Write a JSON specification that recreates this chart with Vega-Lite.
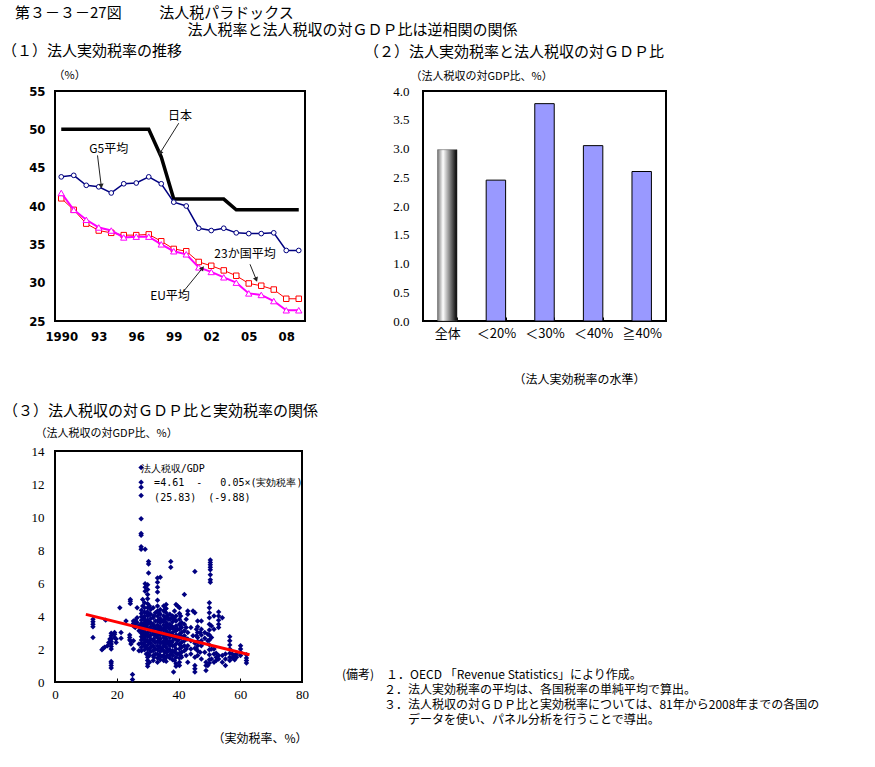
{
  "$schema": "https://vega.github.io/schema/vega-lite/v6.json",
  "autosize": {"type": "none"},
  "padding": {"left": 55, "top": 91, "right": 820, "bottom": 676},
  "background": "white",
  "config": {
    "font": "Noto Sans CJK JP",
    "view": {"stroke": "black", "strokeWidth": 2},
    "axis": {"domain": false, "grid": false, "ticks": false, "labelColor": "#000", "titleColor": "#000", "titleFontWeight": "normal", "labelFont": "Noto Sans CJK JP", "titleFont": "Noto Sans CJK JP", "labelFlush": false, "labelOverlap": false},
    "title": {"fontWeight": "normal", "color": "#000", "font": "Noto Sans CJK JP"}
  },
  "title": {
    "text": ["第３－３－27図\u3000\u3000\u2002法人税パラドックス", "\u200b\u3000\u3000\u3000\u3000\u3000\u3000\u3000\u3000\u3000\u3000\u3000\u2002法人税率と法人税収の対ＧＤＰ比は逆相関の関係"],
    "anchor": "start", "frame": "group", "dx": -40, "fontSize": 15, "lineHeight": 17, "offset": 5
  },
  "bounds": "flush",
  "columns": 2,
  "spacing": {"row": 130, "column": 118},
  "datasets": {
    "trend": [
      {"year":1990,"s":"日本","v":50.0},{"year":1991,"s":"日本","v":50.0},{"year":1992,"s":"日本","v":50.0},{"year":1993,"s":"日本","v":50.0},{"year":1994,"s":"日本","v":50.0},{"year":1995,"s":"日本","v":50.0},{"year":1996,"s":"日本","v":50.0},{"year":1997,"s":"日本","v":50.0},{"year":1998,"s":"日本","v":46.4},{"year":1999,"s":"日本","v":40.9},{"year":2000,"s":"日本","v":40.9},{"year":2001,"s":"日本","v":40.9},{"year":2002,"s":"日本","v":40.9},{"year":2003,"s":"日本","v":40.9},{"year":2004,"s":"日本","v":39.5},{"year":2005,"s":"日本","v":39.5},{"year":2006,"s":"日本","v":39.5},{"year":2007,"s":"日本","v":39.5},{"year":2008,"s":"日本","v":39.5},{"year":2009,"s":"日本","v":39.5},
      {"year":1990,"s":"G5平均","v":43.8},{"year":1991,"s":"G5平均","v":44.0},{"year":1992,"s":"G5平均","v":42.7},{"year":1993,"s":"G5平均","v":42.5},{"year":1994,"s":"G5平均","v":41.7},{"year":1995,"s":"G5平均","v":42.9},{"year":1996,"s":"G5平均","v":43.0},{"year":1997,"s":"G5平均","v":43.8},{"year":1998,"s":"G5平均","v":42.9},{"year":1999,"s":"G5平均","v":40.5},{"year":2000,"s":"G5平均","v":40.0},{"year":2001,"s":"G5平均","v":37.1},{"year":2002,"s":"G5平均","v":36.8},{"year":2003,"s":"G5平均","v":37.1},{"year":2004,"s":"G5平均","v":36.5},{"year":2005,"s":"G5平均","v":36.4},{"year":2006,"s":"G5平均","v":36.4},{"year":2007,"s":"G5平均","v":36.5},{"year":2008,"s":"G5平均","v":34.2},{"year":2009,"s":"G5平均","v":34.2},
      {"year":1990,"s":"23か国平均","v":41.0},{"year":1991,"s":"23か国平均","v":39.5},{"year":1992,"s":"23か国平均","v":37.7},{"year":1993,"s":"23か国平均","v":36.8},{"year":1994,"s":"23か国平均","v":36.5},{"year":1995,"s":"23か国平均","v":36.2},{"year":1996,"s":"23か国平均","v":36.2},{"year":1997,"s":"23か国平均","v":36.3},{"year":1998,"s":"23か国平均","v":35.4},{"year":1999,"s":"23か国平均","v":34.4},{"year":2000,"s":"23か国平均","v":34.1},{"year":2001,"s":"23か国平均","v":32.7},{"year":2002,"s":"23か国平均","v":32.2},{"year":2003,"s":"23か国平均","v":31.6},{"year":2004,"s":"23か国平均","v":30.9},{"year":2005,"s":"23か国平均","v":29.9},{"year":2006,"s":"23か国平均","v":29.6},{"year":2007,"s":"23か国平均","v":29.1},{"year":2008,"s":"23か国平均","v":27.9},{"year":2009,"s":"23か国平均","v":27.9},
      {"year":1990,"s":"EU平均","v":41.7},{"year":1991,"s":"EU平均","v":39.5},{"year":1992,"s":"EU平均","v":38.2},{"year":1993,"s":"EU平均","v":37.2},{"year":1994,"s":"EU平均","v":36.8},{"year":1995,"s":"EU平均","v":35.9},{"year":1996,"s":"EU平均","v":36.0},{"year":1997,"s":"EU平均","v":36.0},{"year":1998,"s":"EU平均","v":35.0},{"year":1999,"s":"EU平均","v":34.1},{"year":2000,"s":"EU平均","v":33.7},{"year":2001,"s":"EU平均","v":32.0},{"year":2002,"s":"EU平均","v":31.4},{"year":2003,"s":"EU平均","v":30.7},{"year":2004,"s":"EU平均","v":30.0},{"year":2005,"s":"EU平均","v":28.6},{"year":2006,"s":"EU平均","v":28.4},{"year":2007,"s":"EU平均","v":27.6},{"year":2008,"s":"EU平均","v":26.4},{"year":2009,"s":"EU平均","v":26.4}
    ],
    "arrows": [
      {"label":"日本","year":1999.4,"v":50.8,"year2":1997.9,"v2":46.9},
      {"label":"G5平均","year":1992.9,"v":46.6,"year2":1993.2,"v2":42.6},
      {"label":"23か国平均","year":2005.1,"v":32.4,"year2":2005.6,"v2":30.4},
      {"label":"EU平均","year":1999.8,"v":28.9,"year2":2001.3,"v2":31.9}
    ],
    "heads": [
      {"label":"日本","year":1997.9,"v":46.9},
      {"label":"G5平均","year":1993.2,"v":42.6},
      {"label":"23か国平均","year":2005.6,"v":30.4},
      {"label":"EU平均","year":2001.3,"v":31.9}
    ],
    "labs": [
      {"label":"日本","year":1999.5,"v":51.7},
      {"label":"G5平均","year":1993.8,"v":47.5},
      {"label":"23か国平均","year":2004.7,"v":33.8},
      {"label":"EU平均","year":1998.7,"v":28.3}
    ],
    "bars": [
      {"cat":"全体","value":2.98},{"cat":"＜20%","value":2.45},{"cat":"＜30%","value":3.78},{"cat":"＜40%","value":3.05},{"cat":"≧40%","value":2.6}
    ],
    "scatter": [
      {"rate":12.3,"gdp":3.8},{"rate":12.3,"gdp":3.65},{"rate":12.3,"gdp":3.5},{"rate":12.3,"gdp":3.35},{"rate":12.3,"gdp":2.7},
      {"rate":15.2,"gdp":1.95},{"rate":15.6,"gdp":2.05},{"rate":16.1,"gdp":2.1},{"rate":16.4,"gdp":3.75},
      {"rate":17.0,"gdp":2.2},{"rate":17.4,"gdp":2.4},{"rate":17.8,"gdp":2.6},
      {"rate":18.2,"gdp":0.85},{"rate":18.2,"gdp":1.0},{"rate":18.2,"gdp":1.15},{"rate":18.2,"gdp":1.25},{"rate":18.2,"gdp":2.0},{"rate":18.2,"gdp":2.15},{"rate":18.2,"gdp":2.3},{"rate":18.2,"gdp":2.45},{"rate":18.2,"gdp":2.6},{"rate":18.2,"gdp":2.8},{"rate":18.2,"gdp":2.95},
      {"rate":19.3,"gdp":2.7},{"rate":19.3,"gdp":2.9},{"rate":19.3,"gdp":3.0},{"rate":19.8,"gdp":2.4},{"rate":19.8,"gdp":2.6},
      {"rate":21.0,"gdp":4.5},{"rate":21.4,"gdp":3.0},{"rate":21.4,"gdp":2.65},{"rate":23.0,"gdp":3.7},
      {"rate":24.4,"gdp":4.75},{"rate":24.4,"gdp":4.9},{"rate":24.4,"gdp":5.0},{"rate":24.2,"gdp":2.55},{"rate":24.2,"gdp":2.7},{"rate":24.2,"gdp":2.85},{"rate":24.6,"gdp":2.3},{"rate":24.6,"gdp":2.45},
      {"rate":25.1,"gdp":0.15},{"rate":25.1,"gdp":0.45},{"rate":25.4,"gdp":3.4},{"rate":25.4,"gdp":3.55},{"rate":25.4,"gdp":3.7},{"rate":25.4,"gdp":2.0},{"rate":25.4,"gdp":2.5},
      {"rate":26.0,"gdp":3.5},{"rate":26.0,"gdp":3.75},{"rate":26.0,"gdp":3.3},{"rate":26.6,"gdp":4.5},{"rate":26.6,"gdp":3.9},{"rate":26.6,"gdp":3.6},
      {"rate":27.2,"gdp":3.4},{"rate":27.2,"gdp":3.1},{"rate":27.2,"gdp":1.9},{"rate":27.2,"gdp":2.3},
      {"rate":27.9,"gdp":13.0},{"rate":27.9,"gdp":12.1},{"rate":27.9,"gdp":11.8},{"rate":27.9,"gdp":11.3},{"rate":27.9,"gdp":9.9},{"rate":27.9,"gdp":9.0},{"rate":27.9,"gdp":8.9},{"rate":27.9,"gdp":8.2},{"rate":27.9,"gdp":8.05},
      {"rate":28.0,"gdp":4.35},{"rate":28.0,"gdp":4.15},{"rate":28.0,"gdp":3.95},{"rate":28.0,"gdp":3.75},{"rate":28.0,"gdp":3.55},{"rate":28.0,"gdp":3.35},{"rate":28.0,"gdp":3.15},{"rate":28.0,"gdp":2.95},{"rate":28.0,"gdp":2.75},{"rate":28.0,"gdp":2.55},{"rate":28.0,"gdp":2.35},{"rate":28.0,"gdp":2.1},{"rate":28.0,"gdp":1.9},
      {"rate":28.4,"gdp":5.0},{"rate":28.4,"gdp":4.6},{"rate":28.4,"gdp":2.9},{"rate":28.4,"gdp":2.6},
      {"rate":28.7,"gdp":3.9},{"rate":28.7,"gdp":3.5},{"rate":28.7,"gdp":3.1},{"rate":28.7,"gdp":2.7},{"rate":28.7,"gdp":2.3},
      {"rate":29.2,"gdp":8.05},{"rate":29.2,"gdp":5.95},{"rate":29.2,"gdp":5.75},{"rate":29.2,"gdp":5.5},
      {"rate":29.0,"gdp":4.8},{"rate":29.0,"gdp":4.5},{"rate":29.0,"gdp":4.25},{"rate":29.0,"gdp":4.0},{"rate":29.0,"gdp":3.8},{"rate":29.0,"gdp":3.6},{"rate":29.0,"gdp":3.4},{"rate":29.0,"gdp":3.2},{"rate":29.0,"gdp":3.0},{"rate":29.0,"gdp":2.8},{"rate":29.0,"gdp":2.6},{"rate":29.0,"gdp":2.4},{"rate":29.0,"gdp":2.2},{"rate":29.0,"gdp":1.95},
      {"rate":29.6,"gdp":4.2},{"rate":29.6,"gdp":3.7},{"rate":29.6,"gdp":3.3},{"rate":29.6,"gdp":2.9},{"rate":29.6,"gdp":2.5},{"rate":29.6,"gdp":2.1},{"rate":29.6,"gdp":1.7},
      {"rate":30.3,"gdp":7.3},{"rate":30.3,"gdp":7.15},{"rate":30.3,"gdp":6.6},
      {"rate":30.0,"gdp":5.9},{"rate":30.0,"gdp":5.6},{"rate":30.0,"gdp":5.3},{"rate":30.0,"gdp":5.05},{"rate":30.0,"gdp":4.75},{"rate":30.0,"gdp":4.5},{"rate":30.0,"gdp":4.25},{"rate":30.0,"gdp":4.0},{"rate":30.0,"gdp":3.75},{"rate":30.0,"gdp":3.5},{"rate":30.0,"gdp":3.25},{"rate":30.0,"gdp":3.0},{"rate":30.0,"gdp":2.75},{"rate":30.0,"gdp":2.5},{"rate":30.0,"gdp":2.25},{"rate":30.0,"gdp":2.0},{"rate":30.0,"gdp":1.75},{"rate":30.0,"gdp":1.5},{"rate":30.0,"gdp":1.3},{"rate":30.0,"gdp":1.1},{"rate":30.0,"gdp":0.95},
      {"rate":30.6,"gdp":4.6},{"rate":30.6,"gdp":4.1},{"rate":30.6,"gdp":3.6},{"rate":30.6,"gdp":3.2},{"rate":30.6,"gdp":2.8},{"rate":30.6,"gdp":2.4},{"rate":30.6,"gdp":2.0},{"rate":30.6,"gdp":1.6},{"rate":30.6,"gdp":1.2},
      {"rate":31.0,"gdp":4.4},{"rate":31.0,"gdp":4.1},{"rate":31.0,"gdp":3.85},{"rate":31.0,"gdp":3.6},{"rate":31.0,"gdp":3.35},{"rate":31.0,"gdp":3.1},{"rate":31.0,"gdp":2.85},{"rate":31.0,"gdp":2.6},{"rate":31.0,"gdp":2.35},{"rate":31.0,"gdp":2.1},{"rate":31.0,"gdp":1.85},
      {"rate":31.8,"gdp":4.5},{"rate":31.8,"gdp":3.9},{"rate":31.8,"gdp":3.5},{"rate":31.8,"gdp":3.2},{"rate":31.8,"gdp":2.9},{"rate":31.8,"gdp":2.5},{"rate":31.8,"gdp":2.2},{"rate":31.8,"gdp":1.9},{"rate":31.8,"gdp":1.6},{"rate":31.8,"gdp":1.3},
      {"rate":32.0,"gdp":4.0},{"rate":32.0,"gdp":3.4},{"rate":32.0,"gdp":3.0},{"rate":32.0,"gdp":2.6},{"rate":32.0,"gdp":2.1},{"rate":32.0,"gdp":1.5},
      {"rate":32.5,"gdp":4.2},{"rate":32.5,"gdp":3.7},{"rate":32.5,"gdp":3.3},{"rate":32.5,"gdp":2.8},{"rate":32.5,"gdp":2.4},{"rate":32.5,"gdp":2.0},{"rate":32.5,"gdp":1.7},
      {"rate":33.2,"gdp":6.3},{"rate":33.2,"gdp":6.05},{"rate":33.2,"gdp":5.75},{"rate":33.2,"gdp":5.45},{"rate":33.2,"gdp":4.95},{"rate":33.2,"gdp":4.6},{"rate":33.2,"gdp":4.3},{"rate":33.2,"gdp":4.0},{"rate":33.2,"gdp":3.7},{"rate":33.2,"gdp":3.45},{"rate":33.2,"gdp":3.2},{"rate":33.2,"gdp":2.95},{"rate":33.2,"gdp":2.7},{"rate":33.2,"gdp":2.45},{"rate":33.2,"gdp":2.2},{"rate":33.2,"gdp":1.95},{"rate":33.2,"gdp":1.7},{"rate":33.2,"gdp":1.45},{"rate":33.2,"gdp":1.2},
      {"rate":33.7,"gdp":4.2},{"rate":33.7,"gdp":3.8},{"rate":33.7,"gdp":3.3},{"rate":33.7,"gdp":2.9},{"rate":33.7,"gdp":2.5},{"rate":33.7,"gdp":2.1},{"rate":33.7,"gdp":1.6},
      {"rate":34.1,"gdp":6.35},{"rate":34.1,"gdp":4.4},{"rate":34.1,"gdp":4.1},{"rate":34.1,"gdp":3.85},{"rate":34.1,"gdp":3.6},{"rate":34.1,"gdp":3.35},{"rate":34.1,"gdp":3.1},{"rate":34.1,"gdp":2.85},{"rate":34.1,"gdp":2.6},{"rate":34.1,"gdp":2.35},{"rate":34.1,"gdp":2.1},{"rate":34.1,"gdp":1.85},{"rate":34.1,"gdp":1.6},{"rate":34.1,"gdp":1.35},
      {"rate":34.7,"gdp":3.7},{"rate":34.7,"gdp":3.2},{"rate":34.7,"gdp":2.9},{"rate":34.7,"gdp":2.4},{"rate":34.7,"gdp":2.0},{"rate":34.7,"gdp":1.55},
      {"rate":35.2,"gdp":4.6},{"rate":35.2,"gdp":4.3},{"rate":35.2,"gdp":4.0},{"rate":35.2,"gdp":3.7},{"rate":35.2,"gdp":3.45},{"rate":35.2,"gdp":3.2},{"rate":35.2,"gdp":2.95},{"rate":35.2,"gdp":2.7},{"rate":35.2,"gdp":2.45},{"rate":35.2,"gdp":2.2},{"rate":35.2,"gdp":1.9},{"rate":35.2,"gdp":1.6},{"rate":35.2,"gdp":1.3},
      {"rate":35.6,"gdp":4.4},{"rate":35.6,"gdp":3.8},{"rate":35.6,"gdp":3.3},{"rate":35.6,"gdp":2.8},{"rate":35.6,"gdp":2.3},{"rate":35.6,"gdp":1.8},{"rate":35.6,"gdp":1.4},
      {"rate":36.0,"gdp":4.7},{"rate":36.0,"gdp":4.45},{"rate":36.0,"gdp":4.2},{"rate":36.0,"gdp":3.9},{"rate":36.0,"gdp":3.6},{"rate":36.0,"gdp":3.35},{"rate":36.0,"gdp":3.1},{"rate":36.0,"gdp":2.85},{"rate":36.0,"gdp":2.6},{"rate":36.0,"gdp":2.35},{"rate":36.0,"gdp":2.1},{"rate":36.0,"gdp":1.8},{"rate":36.0,"gdp":1.5},{"rate":36.0,"gdp":1.25},
      {"rate":36.4,"gdp":4.0},{"rate":36.4,"gdp":3.5},{"rate":36.4,"gdp":3.0},{"rate":36.4,"gdp":2.5},{"rate":36.4,"gdp":2.0},{"rate":36.4,"gdp":1.6},
      {"rate":36.7,"gdp":3.8},{"rate":36.7,"gdp":3.3},{"rate":36.7,"gdp":2.8},{"rate":36.7,"gdp":2.3},{"rate":36.7,"gdp":1.9},
      {"rate":37.5,"gdp":7.3},{"rate":37.5,"gdp":6.95},
      {"rate":37.2,"gdp":4.1},{"rate":37.2,"gdp":3.8},{"rate":37.2,"gdp":3.5},{"rate":37.2,"gdp":3.2},{"rate":37.2,"gdp":2.95},{"rate":37.2,"gdp":2.7},{"rate":37.2,"gdp":2.45},{"rate":37.2,"gdp":2.2},{"rate":37.2,"gdp":1.95},{"rate":37.2,"gdp":1.65},{"rate":37.2,"gdp":1.45},
      {"rate":37.8,"gdp":3.9},{"rate":37.8,"gdp":3.4},{"rate":37.8,"gdp":2.9},{"rate":37.8,"gdp":2.4},{"rate":37.8,"gdp":1.8},
      {"rate":38.1,"gdp":4.0},{"rate":38.1,"gdp":3.65},{"rate":38.1,"gdp":3.3},{"rate":38.1,"gdp":3.0},{"rate":38.1,"gdp":2.75},{"rate":38.1,"gdp":2.5},{"rate":38.1,"gdp":2.2},{"rate":38.1,"gdp":1.9},{"rate":38.1,"gdp":1.6},{"rate":38.1,"gdp":1.35},{"rate":38.4,"gdp":0.6},
      {"rate":38.7,"gdp":4.3},{"rate":38.7,"gdp":3.8},{"rate":38.7,"gdp":3.2},{"rate":38.7,"gdp":2.7},{"rate":38.7,"gdp":2.2},{"rate":38.7,"gdp":1.8},{"rate":38.7,"gdp":1.3},
      {"rate":39.2,"gdp":4.7},{"rate":39.2,"gdp":4.0},{"rate":39.2,"gdp":3.7},{"rate":39.2,"gdp":3.4},{"rate":39.2,"gdp":3.1},{"rate":39.2,"gdp":2.85},{"rate":39.2,"gdp":2.6},{"rate":39.2,"gdp":2.3},{"rate":39.2,"gdp":2.0},{"rate":39.2,"gdp":1.75},{"rate":39.2,"gdp":1.5},{"rate":39.2,"gdp":1.1},{"rate":39.2,"gdp":0.95},
      {"rate":39.7,"gdp":4.6},{"rate":39.7,"gdp":3.2},{"rate":39.7,"gdp":2.5},{"rate":39.7,"gdp":1.7},
      {"rate":40.3,"gdp":4.5},{"rate":40.3,"gdp":4.15},{"rate":40.3,"gdp":3.8},{"rate":40.3,"gdp":3.5},{"rate":40.3,"gdp":3.2},{"rate":40.3,"gdp":2.9},{"rate":40.3,"gdp":2.6},{"rate":40.3,"gdp":2.3},{"rate":40.3,"gdp":2.0},{"rate":40.3,"gdp":1.75},{"rate":40.3,"gdp":1.45},{"rate":40.3,"gdp":1.2},{"rate":40.3,"gdp":1.0},
      {"rate":40.7,"gdp":4.0},{"rate":40.7,"gdp":3.4},{"rate":40.7,"gdp":2.8},{"rate":40.7,"gdp":2.2},{"rate":40.7,"gdp":1.6},
      {"rate":41.0,"gdp":3.6},{"rate":41.0,"gdp":3.3},{"rate":41.0,"gdp":3.0},{"rate":41.0,"gdp":2.7},{"rate":41.0,"gdp":2.4},{"rate":41.0,"gdp":2.1},{"rate":41.0,"gdp":1.8},{"rate":41.0,"gdp":1.5},
      {"rate":41.9,"gdp":5.3},{"rate":41.9,"gdp":3.5},{"rate":41.9,"gdp":3.1},{"rate":41.9,"gdp":2.8},{"rate":41.9,"gdp":2.5},{"rate":41.9,"gdp":2.2},{"rate":41.9,"gdp":1.9},
      {"rate":42.5,"gdp":3.8},{"rate":42.5,"gdp":3.3},{"rate":42.5,"gdp":2.6},{"rate":42.5,"gdp":2.0},{"rate":42.5,"gdp":1.6},
      {"rate":43.0,"gdp":4.3},{"rate":43.0,"gdp":4.1},{"rate":43.0,"gdp":3.0},{"rate":43.0,"gdp":2.6},{"rate":43.0,"gdp":2.2},{"rate":43.0,"gdp":1.2},
      {"rate":44.0,"gdp":3.3},{"rate":44.0,"gdp":2.5},{"rate":44.0,"gdp":2.0},{"rate":44.0,"gdp":1.7},{"rate":44.7,"gdp":4.3},{"rate":44.7,"gdp":2.8},
      {"rate":45.3,"gdp":6.7},{"rate":45.3,"gdp":4.2},{"rate":45.3,"gdp":2.35},{"rate":45.3,"gdp":2.05},{"rate":45.3,"gdp":1.5},{"rate":45.3,"gdp":1.0},{"rate":45.3,"gdp":0.8},{"rate":45.3,"gdp":0.6},
      {"rate":45.8,"gdp":3.2},{"rate":45.8,"gdp":2.8},{"rate":45.8,"gdp":2.0},
      {"rate":46.2,"gdp":3.7},{"rate":46.2,"gdp":3.35},{"rate":46.2,"gdp":3.0},{"rate":46.2,"gdp":2.7},{"rate":46.2,"gdp":2.45},{"rate":46.2,"gdp":2.2},{"rate":46.2,"gdp":1.9},{"rate":46.2,"gdp":1.6},
      {"rate":47.0,"gdp":3.0},{"rate":47.0,"gdp":2.4},{"rate":47.0,"gdp":1.8},
      {"rate":47.4,"gdp":3.7},{"rate":47.4,"gdp":3.2},{"rate":47.4,"gdp":2.85},{"rate":47.4,"gdp":2.5},{"rate":47.4,"gdp":2.2},{"rate":47.4,"gdp":1.4},
      {"rate":48.5,"gdp":3.0},{"rate":48.5,"gdp":2.65},{"rate":48.5,"gdp":1.8},{"rate":48.9,"gdp":0.7},{"rate":48.9,"gdp":1.0},{"rate":48.9,"gdp":1.2},
      {"rate":50.3,"gdp":7.4},{"rate":50.3,"gdp":7.25},{"rate":50.3,"gdp":7.1},{"rate":50.3,"gdp":6.95},{"rate":50.3,"gdp":6.8},{"rate":50.3,"gdp":6.5},{"rate":50.3,"gdp":6.2},{"rate":50.3,"gdp":6.05},
      {"rate":50.0,"gdp":4.8},{"rate":50.0,"gdp":4.5},{"rate":50.0,"gdp":4.2},{"rate":50.0,"gdp":3.9},{"rate":50.0,"gdp":3.5},{"rate":50.0,"gdp":3.15},{"rate":50.0,"gdp":2.85},{"rate":50.0,"gdp":2.55},{"rate":50.0,"gdp":2.25},{"rate":50.0,"gdp":1.95},{"rate":50.0,"gdp":1.65},{"rate":50.0,"gdp":1.35},{"rate":50.0,"gdp":1.15},
      {"rate":49.5,"gdp":2.9},{"rate":49.5,"gdp":2.5},{"rate":49.5,"gdp":1.0},
      {"rate":50.7,"gdp":3.4},{"rate":50.7,"gdp":2.7},{"rate":50.7,"gdp":2.0},{"rate":50.7,"gdp":1.4},
      {"rate":51.5,"gdp":4.0},{"rate":51.5,"gdp":3.2},{"rate":51.5,"gdp":2.0},{"rate":51.5,"gdp":1.7},{"rate":51.5,"gdp":1.2},
      {"rate":52.2,"gdp":1.5},{"rate":52.2,"gdp":1.3},{"rate":52.2,"gdp":1.75},
      {"rate":53.0,"gdp":4.25},{"rate":53.0,"gdp":4.0},{"rate":53.0,"gdp":3.75},{"rate":53.0,"gdp":3.5},{"rate":53.0,"gdp":3.3},{"rate":53.0,"gdp":1.4},{"rate":53.0,"gdp":1.6},
      {"rate":54.2,"gdp":1.6},{"rate":54.2,"gdp":1.2},{"rate":54.2,"gdp":3.9},
      {"rate":55.2,"gdp":1.7},{"rate":55.2,"gdp":1.0},{"rate":55.2,"gdp":1.4},
      {"rate":56.6,"gdp":2.75},{"rate":56.6,"gdp":2.5},{"rate":56.6,"gdp":2.25},{"rate":56.6,"gdp":2.0},{"rate":56.6,"gdp":1.75},{"rate":56.6,"gdp":1.5},{"rate":56.6,"gdp":1.3},
      {"rate":57.4,"gdp":1.7},{"rate":57.4,"gdp":1.45},{"rate":58.2,"gdp":1.6},{"rate":58.2,"gdp":1.35},{"rate":58.2,"gdp":1.5},{"rate":58.8,"gdp":1.7},{"rate":58.8,"gdp":1.5},
      {"rate":60.1,"gdp":2.2},{"rate":60.1,"gdp":2.0},{"rate":60.1,"gdp":1.8},{"rate":60.1,"gdp":1.6},
      {"rate":62.0,"gdp":1.65},{"rate":62.0,"gdp":1.45},{"rate":62.0,"gdp":1.3},{"rate":62.0,"gdp":1.15}
    ],
    "fit": [{"rate":10,"gdp":4.1},{"rate":63,"gdp":1.65}],
    "eq": [
      {"rate":27.75,"gdp":12.9,"t":"法人税収/GDP"},
      {"rate":32.1,"gdp":12.06,"t":"=4.61\u00a0\u00a0-\u00a0\u00a0\u00a00.05×(実効税率)"},
      {"rate":32.1,"gdp":11.17,"t":"(25.83)\u00a0\u00a0(-9.88)"}
    ]
  },
  "concat": [
    {
      "width": 250, "height": 230,
      "title": {"text": "（１）法人実効税率の推移", "anchor": "start", "frame": "group", "dx": -53, "fontSize": 15, "offset": 10},
      "encoding": {
        "x": {"field": "year", "type": "quantitative", "scale": {"domain": [1989.5, 2009.5], "nice": false, "zero": false},
              "axis": {"values": [1990,1993,1996,1999,2002,2005,2008], "labelExpr": "datum.value == 1990 ? '1990' : slice(toString(datum.value), 2)", "title": null, "labelPadding": 9, "labelFontSize": 13, "labelFont": "'Liberation Sans Narrow', 'DejaVu Sans Condensed', sans-serif", "labelFontWeight": "bold"}},
        "y": {"field": "v", "type": "quantitative", "scale": {"domain": [25, 55], "nice": false, "zero": false},
              "axis": {"values": [25,30,35,40,45,50,55], "labelPadding": 10, "labelFontSize": 13, "labelFont": "'Liberation Sans Narrow', 'DejaVu Sans Condensed', sans-serif", "labelFontWeight": "bold", "title": "（%）", "titleAngle": 0, "titleX": -2, "titleY": -16, "titleAlign": "left", "titleBaseline": "middle", "titleFontSize": 11}}
      },
      "layer": [
        {"data": {"name": "trend"}, "transform": [{"filter": "datum.s === '日本'"}], "mark": {"type": "line", "color": "black", "strokeWidth": 3.5}},
        {"data": {"name": "trend"}, "transform": [{"filter": "datum.s === 'G5平均'"}], "mark": {"type": "line", "color": "#000080", "strokeWidth": 1.5}},
        {"data": {"name": "trend"}, "transform": [{"filter": "datum.s === 'G5平均'"}], "mark": {"type": "point", "shape": "circle", "filled": true, "fill": "white", "stroke": "#000080", "strokeWidth": 1, "size": 22, "opacity": 1}},
        {"data": {"name": "trend"}, "transform": [{"filter": "datum.s === '23か国平均'"}], "mark": {"type": "line", "color": "red", "strokeWidth": 1}},
        {"data": {"name": "trend"}, "transform": [{"filter": "datum.s === '23か国平均'"}], "mark": {"type": "point", "shape": "square", "filled": true, "fill": "white", "stroke": "red", "strokeWidth": 1, "size": 30, "opacity": 1}},
        {"data": {"name": "trend"}, "transform": [{"filter": "datum.s === 'EU平均'"}], "mark": {"type": "line", "color": "#FF00FF", "strokeWidth": 2}},
        {"data": {"name": "trend"}, "transform": [{"filter": "datum.s === 'EU平均'"}], "mark": {"type": "point", "shape": "triangle-up", "filled": true, "fill": "white", "stroke": "#FF00FF", "strokeWidth": 1, "size": 40, "opacity": 1}},
        {"data": {"name": "arrows"}, "mark": {"type": "rule", "color": "#222", "strokeWidth": 1},
         "encoding": {"x2": {"field": "year2"}, "y2": {"field": "v2"}}},
        {"data": {"name": "heads"}, "mark": {"type": "point", "shape": "triangle-up", "filled": true, "color": "#222", "size": 28, "opacity": 1},
         "encoding": {"angle": {"field": "label", "type": "ordinal", "scale": {"type": "ordinal", "domain": ["日本","G5平均","23か国平均","EU平均"], "range": [213,173,159,40]}, "legend": null}}},
        {"data": {"name": "labs"}, "mark": {"type": "text", "fontSize": 12, "align": "center", "baseline": "middle", "color": "black"},
         "encoding": {"text": {"field": "label"}}}
      ]
    },
    {
      "width": 243, "height": 230,
      "title": {"text": "（２）法人実効税率と法人税収の対ＧＤＰ比", "anchor": "start", "frame": "group", "dx": -59, "fontSize": 15, "offset": 10},
      "data": {"name": "bars"},
      "encoding": {
        "x": {"field": "cat", "type": "nominal", "sort": null, "scale": {"domain": ["全体","＜20%","＜30%","＜40%","≧40%"], "paddingInner": 0.6, "paddingOuter": 0.3},
              "axis": {"labelAngle": 0, "labelPadding": 10, "labelFontSize": 13, "ticks": true, "tickBand": "extent", "tickSize": -4, "tickColor": "black", "title": "（法人実効税率の水準）", "titleX": 222, "titleY": 58, "titleAlign": "right", "titleBaseline": "middle", "titleFontSize": 12}},
        "y": {"field": "value", "type": "quantitative", "scale": {"domain": [0, 4], "nice": false},
              "axis": {"values": [0,0.5,1,1.5,2,2.5,3,3.5,4], "format": ".1f", "labelPadding": 14, "labelFontSize": 13, "labelFont": "'Liberation Serif', serif", "title": "（法人税収の対GDP比、%）", "titleAngle": 0, "titleX": -13, "titleY": -15, "titleAlign": "left", "titleBaseline": "middle", "titleFontSize": 11}}
      },
      "layer": [
        {"transform": [{"filter": "datum.cat !== '全体'"}], "mark": {"type": "bar", "color": "#9999FF", "stroke": "black", "strokeWidth": 1}},
        {"transform": [{"filter": "datum.cat === '全体'"}], "mark": {"type": "bar", "stroke": "#444", "strokeWidth": 0.5,
          "color": {"gradient": "linear", "x1": 0, "x2": 1, "y1": 0, "y2": 0, "stops": [{"offset": 0, "color": "#777777"}, {"offset": 0.28, "color": "#ffffff"}, {"offset": 1, "color": "#000000"}]}}}
      ]
    },
    {
      "width": 247, "height": 231,
      "title": {"text": "（３）法人税収の対ＧＤＰ比と実効税率の関係", "anchor": "start", "frame": "group", "dx": -52, "fontSize": 15, "offset": 8},
      "encoding": {
        "x": {"field": "rate", "type": "quantitative", "scale": {"domain": [0, 80], "nice": false},
              "axis": {"values": [0,20,40,60,80], "labelPadding": 10, "labelFontSize": 13, "labelFont": "'Liberation Serif', serif", "ticks": true, "tickSize": -4, "tickColor": "black", "title": "（実効税率、%）", "titleX": 252, "titleY": 56, "titleAlign": "right", "titleBaseline": "middle", "titleFontSize": 12}},
        "y": {"field": "gdp", "type": "quantitative", "scale": {"domain": [0, 14], "nice": false},
              "axis": {"values": [0,2,4,6,8,10,12,14], "labelPadding": 11, "labelFontSize": 13, "labelFont": "'Liberation Serif', serif", "title": "（法人税収の対GDP比、%）", "titleAngle": 0, "titleX": -20, "titleY": -18, "titleAlign": "left", "titleBaseline": "middle", "titleFontSize": 11}}
      },
      "layer": [
        {"data": {"name": "scatter"}, "mark": {"type": "point", "shape": "diamond", "filled": true, "color": "#000080", "size": 30, "opacity": 1}},
        {"data": {"name": "fit"}, "mark": {"type": "line", "color": "red", "strokeWidth": 3}},
        {"data": {"name": "eq"}, "mark": {"type": "text", "align": "left", "baseline": "middle", "font": "'DejaVu Sans Mono', monospace", "fontSize": 10, "color": "black"},
         "encoding": {"text": {"field": "t"}}}
      ]
    },
    {
      "width": 243, "height": 231,
      "view": {"stroke": null},
      "title": {
        "text": [
          "(備考)\u3000１．OECD 「Revenue Statistics」により作成。",
          "\u200b\u3000\u3000\u3000\u2002２．法人実効税率の平均は、各国税率の単純平均で算出。",
          "\u200b\u3000\u3000\u3000\u2002３．法人税収の対ＧＤＰ比と実効税率については、81年から2008年までの各国の",
          "\u200b\u3000\u3000\u3000\u2002\u3000\u3000データを使い、パネル分析を行うことで導出。"
        ],
        "orient": "bottom", "anchor": "start", "frame": "group", "dx": -81, "offset": -12, "fontSize": 12, "lineHeight": 15, "baseline": "top"
      },
      "data": {"values": [{"t": ""}]},
      "mark": {"type": "text"},
      "encoding": {"text": {"field": "t"}}
    }
  ]
}
